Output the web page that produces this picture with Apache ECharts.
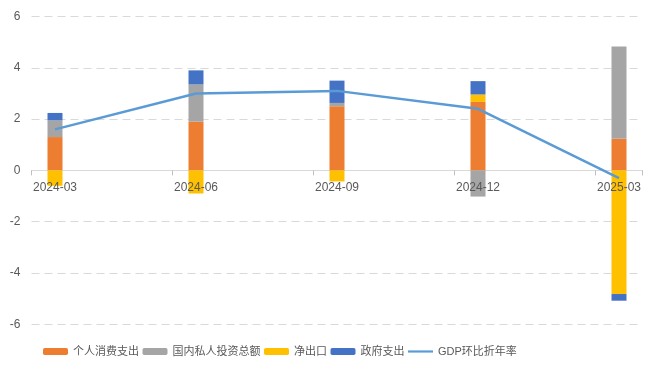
<!DOCTYPE html>
<html>
<head>
<meta charset="utf-8">
<script src="https://cdn.jsdelivr.net/npm/echarts@6/dist/echarts.min.js"></script>
<style>html,body{margin:0;padding:0;background:#fff}#c{width:660px;height:375px}</style>
</head>
<body>
<div id="c"></div>
<script>
// Monthly slots of the date axis (labels shown every 3 months)
const months = ['2024-03','2024-04','2024-05','2024-06','2024-07','2024-08','2024-09','2024-10','2024-11','2024-12','2025-01','2025-02','2025-03'];
const quarters = ['2024-03','2024-06','2024-09','2024-12','2025-03'];
const consumption = [1.30, 1.90, 2.50, 2.67, 1.23];
const investment = [0.65, 1.45, 0.13, -1.02, 3.60];
const netExports = [-0.60, -0.90, -0.43, 0.29, -4.82];
const government = [0.29, 0.55, 0.87, 0.52, -0.26];
const gdp = [1.6, 3.0, 3.1, 2.4, -0.3];
const yTicks = [-6, -4, -2, 0, 2, 4, 6];

function toMonths(arr) {
  return months.map(m => { const i = quarters.indexOf(m); return i >= 0 ? arr[i] : '-'; });
}
const FONT = '"Liberation Sans", "Noto Sans CJK SC", sans-serif';
const TXT = '#595959';
const GRID_TOP = 16.5, GRID_BOTTOM = 50.7, H = 375;
const plotH = H - GRID_TOP - GRID_BOTTOM;
const zeroOffset = -plotH * (0 - yTicks[0]) / (yTicks[yTicks.length - 1] - yTicks[0]);
const chart = echarts.init(document.getElementById('c'), null, {renderer: 'canvas'});
const barBase = {type: 'bar', stack: 'g', barWidth: 15, xAxisIndex: 0};
chart.setOption({
  animation: false,
  textStyle: {fontFamily: FONT},
  grid: {left: 31.5, right: 17.5, top: GRID_TOP, bottom: GRID_BOTTOM},
  legend: {
    left: 43, top: 346, itemWidth: 25, itemHeight: 7, itemGap: 3.5, padding: 0,
    textStyle: {color: TXT, fontSize: 11, fontFamily: FONT},
    data: ['个人消费支出', '国内私人投资总额', '净出口', '政府支出',
      {name: 'GDP环比折年率', icon: 'path://M0,0 H25 V2.2 H0 Z', itemStyle: {color: '#5b9bd5'}}]
  },
  xAxis: [{
    type: 'category', data: months, boundaryGap: true, z: 0, position: 'bottom',
    axisLine: {onZero: true, lineStyle: {color: '#d9d9d9', width: 1}},
    axisTick: {show: true, interval: 2, length: 5, lineStyle: {color: '#bfbfbf'}},
    axisLabel: {show: false},
    splitLine: {show: false}
  }, {
    type: 'category', data: months, boundaryGap: true, z: 10, position: 'bottom',
    offset: zeroOffset,
    axisLine: {show: false, onZero: false},
    axisTick: {show: false},
    axisLabel: {show: true, interval: 2, color: TXT, fontSize: 12, margin: 11, fontFamily: FONT},
    splitLine: {show: false}
  }],
  yAxis: {
    type: 'value', min: yTicks[0], max: yTicks[yTicks.length - 1], interval: 2,
    axisLine: {show: false}, axisTick: {show: false},
    axisLabel: {color: TXT, fontSize: 12, margin: 11, fontFamily: FONT},
    splitLine: {lineStyle: {color: '#d9d9d9', type: [8, 5], width: 1}}
  },
  series: [
    Object.assign({name: '个人消费支出', data: toMonths(consumption), itemStyle: {color: '#ed7d31'}}, barBase),
    Object.assign({name: '国内私人投资总额', data: toMonths(investment), itemStyle: {color: '#a5a5a5'}}, barBase),
    Object.assign({name: '净出口', data: toMonths(netExports), itemStyle: {color: '#ffc000'}}, barBase),
    Object.assign({name: '政府支出', data: toMonths(government), itemStyle: {color: '#4472c4'}}, barBase),
    {name: 'GDP环比折年率', type: 'line', data: toMonths(gdp), connectNulls: true, symbol: 'none',
     z: 5, lineStyle: {color: '#5b9bd5', width: 2.5}, itemStyle: {color: '#5b9bd5'}}
  ]
});
</script>
</body>
</html>
